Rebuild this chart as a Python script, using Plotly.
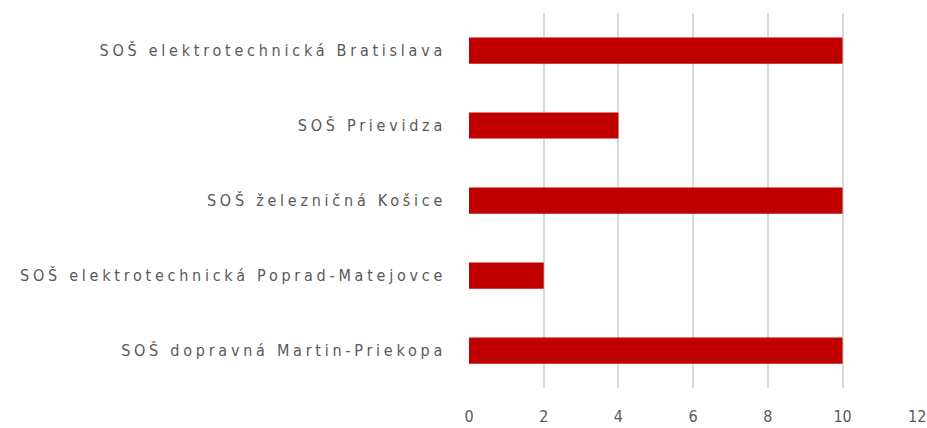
import plotly.graph_objects as go

categories = [
    "SOŠ elektrotechnická Bratislava",
    "SOŠ Prievidza",
    "SOŠ železničná Košice",
    "SOŠ elektrotechnická Poprad-Matejovce",
    "SOŠ dopravná Martin-Priekopa",
]
values = [10, 4, 10, 2, 10]
x_ticks = [0, 2, 4, 6, 8, 10, 12]

font = dict(family="DejaVu Sans Condensed, DejaVu Sans, sans-serif", size=16, color="#595959")

fig = go.Figure(go.Bar(
    y=categories, x=values, orientation="h",
    marker=dict(color="#C00000", line=dict(width=0)),
))
fig.update_layout(
    width=927, height=428,
    margin=dict(l=469, r=9, t=13, b=40, autoexpand=False),
    plot_bgcolor="white", paper_bgcolor="white",
    bargap=0.65, showlegend=False, font=font,
)
fig.update_xaxes(range=[0, 12.02], tickvals=x_ticks, showgrid=True, gridcolor="#D9D9D9", gridwidth=1.5,
                 zeroline=False, showline=False, ticks="", ticklabelstandoff=17, fixedrange=True,
                 automargin=False, tickfont=dict(size=16))
fig.update_yaxes(autorange="reversed", showgrid=False, showline=False, ticks="",
                 ticklabelstandoff=22, fixedrange=True, automargin=False)

post = """
document.body.style.margin = '0';
document.body.style.padding = '0';
var st = document.createElement('style');
st.innerHTML = 'body{margin:0;padding:0;} .ytick text { letter-spacing: 3.75px; }';
document.head.appendChild(st);
"""
fig.write_html("out.html", post_script=post, config={"displayModeBar": False})
